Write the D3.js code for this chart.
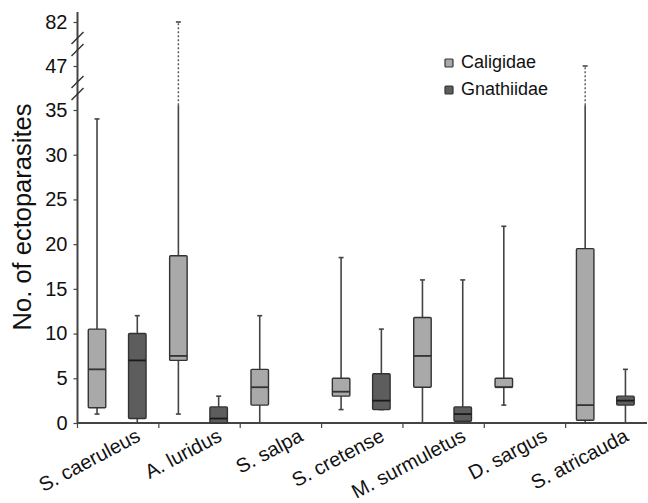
<!DOCTYPE html>
<html>
<head>
<meta charset="utf-8">
<script src="https://cdn.jsdelivr.net/npm/d3@7"></script>
<style>
  body { margin: 0; background: #fff; }
  svg { display: block; font-family: "Liberation Sans", Arial, Helvetica, sans-serif; }
</style>
</head>
<body>
<svg id="chart" width="648" height="503"></svg>
<script>
// data: [min, q1, median, q3, max]
const species = ["S. caeruleus", "A. luridus", "S. salpa", "S. cretense", "M. surmuletus", "D. sargus", "S. atricauda"];
const caligidae = [
  [1, 1.7, 6, 10.5, 34],
  [1, 7, 7.5, 18.7, 82],
  [0, 2, 4, 6, 12],
  [1.5, 3, 3.5, 5, 18.5],
  [0, 4, 7.5, 11.8, 16],
  [2, 4, 4, 5, 22],
  [0, 0.3, 2, 19.5, 47]
];
const gnathiidae = [
  [0, 0.5, 7, 10, 12],
  [0, 0, 0.5, 1.8, 3],
  null,
  [1.5, 1.5, 2.5, 5.5, 10.5],
  [0, 0.2, 1, 1.8, 16],
  null,
  [0, 2, 2.5, 3, 6]
];
const yTicks = [0, 5, 10, 15, 20, 25, 30, 35, 47, 82];
const seriesNames = ["Caligidae", "Gnathiidae"];
const seriesFill = ["#a9a9a9", "#5d5d5d"];

const svg = d3.select("#chart");

// margins
const margins = { left: 77.5, right: 647, bottom: 423, top: 12 };

// broken y axis: 0-35 linear, then 47 and 82 squeezed on top
const y = d3.scaleLinear().domain([0, 35, 47, 82]).range([margins.bottom, 110, 66, 22]);
const solidMax = 36.3; // above this the whisker is drawn dotted (axis break)

const x = d3.scaleBand().domain(species).range([margins.left, margins.right]);
const bw = x.bandwidth();
const boxW = bw * 0.215;
const offsets = [0.24, 0.735];

// y axis
const yAxis = svg.append("g")
  .attr("transform", `translate(${margins.left},0)`)
  .call(d3.axisLeft(y).tickValues(yTicks).tickSize(4).tickPadding(6));
yAxis.select(".domain").remove();
yAxis.selectAll(".tick line").attr("stroke", "#444").attr("stroke-width", 1.2);
yAxis.selectAll(".tick text")
  .style("font-size", "20px")
  .attr("fill", "#111")
  .attr("font-family", "Liberation Sans, Arial, sans-serif");

svg.append("line")
  .attr("x1", margins.left).attr("x2", margins.left)
  .attr("y1", margins.top).attr("y2", margins.bottom)
  .attr("stroke", "#444").attr("stroke-width", 2);

// break marks
const breaks = [(y(35) + y(47)) / 2, (y(47) + y(82)) / 2];
breaks.forEach(by => {
  [-6, 6].forEach(d => {
    svg.append("line")
      .attr("x1", margins.left - 6).attr("y1", by + d + 6)
      .attr("x2", margins.left + 6).attr("y2", by + d - 6)
      .attr("stroke", "#333").attr("stroke-width", 1.5);
  });
});

// x axis
svg.append("line")
  .attr("x1", margins.left).attr("x2", margins.right)
  .attr("y1", margins.bottom).attr("y2", margins.bottom)
  .attr("stroke", "#444").attr("stroke-width", 2);

svg.append("g")
  .selectAll("line")
  .data(species)
  .join("line")
  .attr("x1", d => x(d)).attr("x2", d => x(d))
  .attr("y1", margins.bottom).attr("y2", margins.bottom + 5)
  .attr("stroke", "#444").attr("stroke-width", 1.2);

svg.append("g")
  .selectAll("text")
  .data(species)
  .join("text")
  .attr("transform", d => `translate(${x(d) + bw / 2 + 23.5},${margins.bottom + 17}) rotate(-28)`)
  .attr("text-anchor", "end")
  .style("font-size", "20px")
  .attr("fill", "#111")
  .text(d => d);

// y label
svg.append("text")
  .attr("transform", `translate(31,217) rotate(-90)`)
  .attr("text-anchor", "middle")
  .style("font-size", "25.5px")
  .attr("fill", "#111")
  .text("No. of ectoparasites");

// boxes
function drawSeries(stats, si) {
  const g = svg.append("g");
  const rows = stats.map((s, i) => s ? { sp: species[i], s: s } : null).filter(d => d);
  rows.forEach(d => {
    const cx = x(d.sp) + bw * offsets[si];
    const [mn, q1, md, q3, mx] = d.s;
    // upper whisker, solid part then dotted past the break
    g.append("line")
      .attr("x1", cx).attr("x2", cx)
      .attr("y1", y(q3)).attr("y2", y(Math.min(mx, solidMax)))
      .attr("stroke", "#444").attr("stroke-width", 1.6);
    if (mx > solidMax) {
      g.append("line")
        .attr("x1", cx).attr("x2", cx)
        .attr("y1", y(solidMax)).attr("y2", y(mx))
        .attr("stroke", "#555").attr("stroke-width", 1.4)
        .attr("stroke-dasharray", "2,2");
    }
    // lower whisker
    g.append("line")
      .attr("x1", cx).attr("x2", cx)
      .attr("y1", y(q1)).attr("y2", y(mn))
      .attr("stroke", "#444").attr("stroke-width", 1.6);
    // caps
    [mn, mx].forEach(v => {
      g.append("line")
        .attr("x1", cx - 2.5).attr("x2", cx + 2.5)
        .attr("y1", y(v)).attr("y2", y(v))
        .attr("stroke", "#444").attr("stroke-width", 1.6);
    });
    g.append("rect")
      .attr("x", cx - boxW / 2)
      .attr("y", y(q3))
      .attr("width", boxW)
      .attr("height", Math.max(0, y(q1) - y(q3)))
      .attr("rx", 1)
      .attr("fill", seriesFill[si])
      .attr("stroke", "#333").attr("stroke-width", 1.4);
    g.append("line")
      .attr("x1", cx - boxW / 2).attr("x2", cx + boxW / 2)
      .attr("y1", y(md)).attr("y2", y(md))
      .attr("stroke", si ? "#1a1a1a" : "#333").attr("stroke-width", 1.8);
  });
}
drawSeries(caligidae, 0);
drawSeries(gnathiidae, 1);

// legend
const legend = svg.append("g").attr("transform", "translate(445,59)");
seriesNames.forEach((name, i) => {
  legend.append("rect")
    .attr("x", 0).attr("y", i * 27)
    .attr("width", 8).attr("height", 8)
    .attr("rx", 1)
    .attr("fill", seriesFill[i])
    .attr("stroke", "#333").attr("stroke-width", 1.2);
  legend.append("text")
    .attr("x", 16).attr("y", i * 27 + 9)
    .style("font-size", "18px")
    .attr("fill", "#111")
    .text(name);
});
</script>
</body>
</html>
